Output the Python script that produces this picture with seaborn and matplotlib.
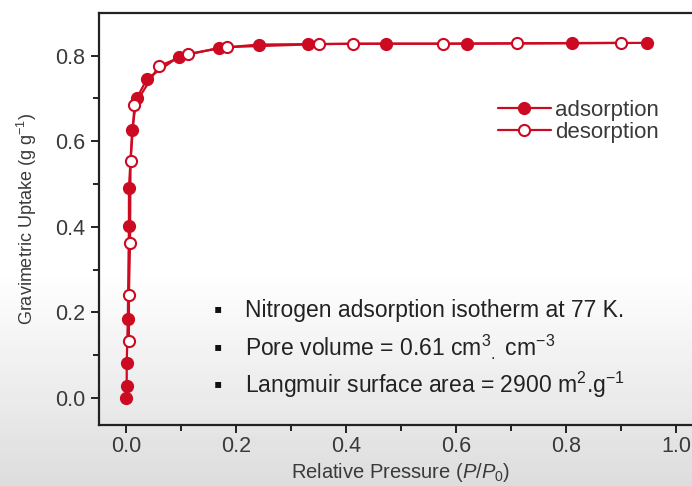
import numpy as np
import seaborn as sns
import matplotlib.pyplot as plt

# isotherm data
p_ads = [0.000, 0.001, 0.001, 0.003, 0.005, 0.005, 0.011, 0.019, 0.038, 0.096,
         0.168, 0.242, 0.330, 0.473, 0.619, 0.811, 0.948]
u_ads = [0.000, 0.028, 0.081, 0.185, 0.403, 0.490, 0.627, 0.700, 0.746, 0.798,
         0.818, 0.826, 0.827, 0.828, 0.828, 0.829, 0.830]
p_des = [0.900, 0.710, 0.577, 0.412, 0.350, 0.183, 0.112, 0.059, 0.015, 0.008,
         0.007, 0.005, 0.005]
u_des = [0.830, 0.829, 0.828, 0.828, 0.827, 0.820, 0.804, 0.775, 0.684, 0.553,
         0.362, 0.241, 0.133]

notes = ["Nitrogen adsorption isotherm at 77 K.",
         "Pore volume = 0.61 cm$^{3}$$_{.}$ cm$^{-3}$",
         "Langmuir surface area = 2900 m$^{2}$.g$^{-1}$"]

red = "#cc0a22"

sns.set_style("ticks")
plt.rcParams['font.family'] = ['Liberation Sans', 'DejaVu Sans']
plt.rcParams['mathtext.fontset'] = 'custom'
plt.rcParams['mathtext.rm'] = 'Liberation Sans'
plt.rcParams['mathtext.it'] = 'Liberation Sans:italic'

fig = plt.figure(figsize=(6.92, 4.86), dpi=100)

# screenshot-like background: white at top, grey towards the bottom
bg = fig.add_axes([0, 0, 1, 1], zorder=-10)
grad = np.concatenate([np.ones(55), np.linspace(1, 0, 45)])[:, None]
bg.imshow(grad, aspect='auto', cmap='gray', vmin=-6.5, vmax=1.0,
          extent=[0, 1, 0, 1], origin='upper')
bg.axis('off')

ax = fig.add_axes([0.1426, 0.1255, 0.874, 0.848])
ax.set_facecolor('none')

sns.lineplot(x=p_ads, y=u_ads, sort=False, estimator=None, ax=ax, color=red,
             lw=1.6, marker='o', markersize=8, markerfacecolor=red,
             markeredgecolor=red, markeredgewidth=1.5, label='adsorption')
sns.lineplot(x=p_des, y=u_des, sort=False, estimator=None, ax=ax, color=red,
             lw=1.6, marker='o', markersize=8, markerfacecolor='white',
             markeredgecolor=red, markeredgewidth=1.5, label='desorption')

ax.set_xlim(-0.05, 1.05)
ax.set_ylim(-0.063, 0.9)
ax.set_xticks(np.arange(0, 1.01, 0.2))
ax.set_xticks(np.arange(0.1, 1.0, 0.2), minor=True)
ax.set_yticks(np.arange(0, 0.81, 0.2))
ax.set_yticks(np.arange(0.1, 0.8, 0.2), minor=True)
ax.set_xticklabels([f"{v:.1f}" for v in np.arange(0, 1.01, 0.2)])
ax.set_yticklabels([f"{v:.1f}" for v in np.arange(0, 0.81, 0.2)])
ax.tick_params(which='major', length=6, width=1.4, labelsize=15.5,
               colors='#222222', labelcolor='#3a3a3a')
ax.tick_params(which='minor', length=4, width=1.4, colors='#222222')
ax.tick_params(axis='x', pad=2)
for s in ax.spines.values():
    s.set_linewidth(1.6)
    s.set_color('#222222')

ax.set_xlabel("Relative Pressure ($P$/$P_0$)", fontsize=14.5, color='#3a3a3a',
              labelpad=3)
ax.set_ylabel("Gravimetric Uptake (g g$^{-1}$)", fontsize=13,
              color='#3a3a3a', labelpad=12)

leg = ax.legend(loc='upper left', bbox_to_anchor=(0.645, 0.81), frameon=False,
                fontsize=16, handlelength=2.4, handletextpad=0.2,
                labelspacing=0.05, labelcolor='#3a3a3a', borderaxespad=0)

ys = [0.279, 0.187, 0.097]
for y, t in zip(ys, notes):
    ax.text(0.190, y, "\u25aa", transform=ax.transAxes,
            fontsize=17, va='center', ha='left', color='#111111')
    ax.text(0.242, y, t, transform=ax.transAxes,
            fontsize=16.5, va='center', ha='left', color='#222222')

fig.savefig("out.png", dpi=100)
